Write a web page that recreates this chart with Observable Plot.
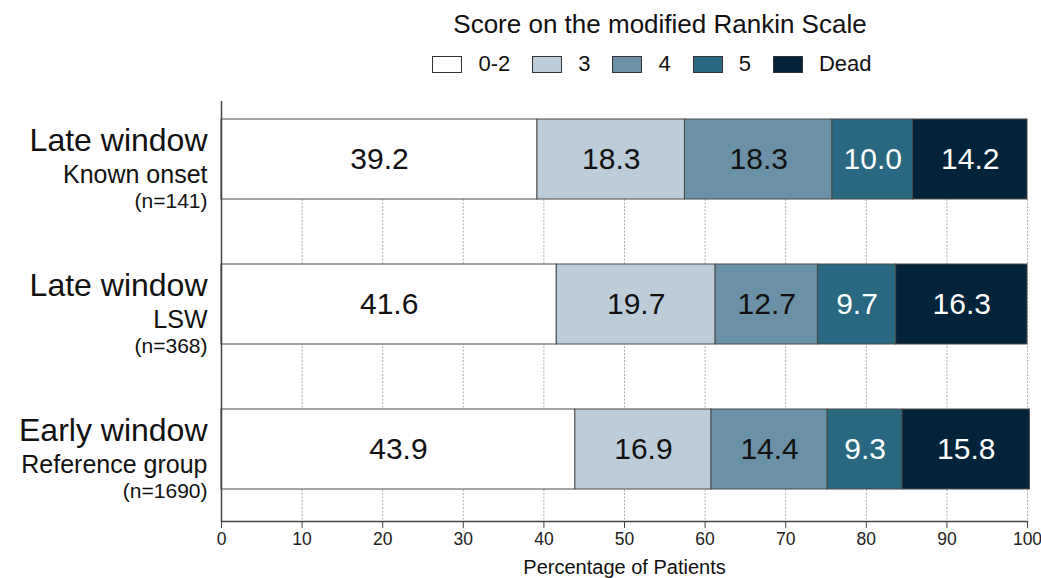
<!DOCTYPE html>
<html><head><meta charset="utf-8">
<script src="https://cdn.jsdelivr.net/npm/d3@7"></script>
<script src="https://cdn.jsdelivr.net/npm/@observablehq/plot@0.6"></script>
<style>
body{margin:0;background:#fff;font-family:"Liberation Sans",Arial,sans-serif;color:#111;}
#header{position:relative;width:1041px;height:92px;}
#title{position:absolute;left:0;top:9px;width:1041px;box-sizing:border-box;padding-left:279px;text-align:center;font-size:26px;line-height:30px;}
#legend{position:absolute;left:0;top:52px;width:1041px;box-sizing:border-box;padding-left:263px;display:flex;justify-content:center;align-items:center;font-size:22px;line-height:24px;}
.item{display:flex;align-items:center;margin:0 11px;}
.sw{width:28px;height:15px;border:1.5px solid #333;margin-right:16px;}
</style>
</head><body>
<div id="header"><div id="title"></div><div id="legend"></div></div>
<div id="chart"></div>
<script>
const legendTitle = "Score on the modified Rankin Scale";
const scores = ["0-2", "3", "4", "5", "Dead"];
const colors = ["#ffffff", "#bccdd9", "#6a91a8", "#2a6882", "#03233a"];
const whiteTextScores = ["5", "Dead"];
const groups = ["Known onset", "LSW", "Reference group"];
const line1 = ["Late window", "Late window", "Early window"];
const nLabels = ["(n=141)", "(n=368)", "(n=1690)"];
const knownOnset = [39.2, 18.3, 18.3, 10.0, 14.2];
const lsw = [41.6, 19.7, 12.7, 9.7, 16.3];
const reference = [43.9, 16.9, 14.4, 9.3, 15.8];
const xTicks = [0, 10, 20, 30, 40, 50, 60, 70, 80, 90, 100];
const xLabel = "Percentage of Patients";

const series = [knownOnset, lsw, reference];
const data = [];
groups.forEach((g, gi) => scores.forEach((s, si) => data.push({group: g, score: s, value: series[gi][si]})));

document.getElementById("title").textContent = legendTitle;
const leg = document.getElementById("legend");
scores.forEach((s, i) => {
  const it = document.createElement("div"); it.className = "item";
  const sw = document.createElement("div"); sw.className = "sw"; sw.style.background = colors[i];
  const lb = document.createElement("span"); lb.textContent = s;
  it.appendChild(sw); it.appendChild(lb); leg.appendChild(it);
});

const font = '"Liberation Sans", Arial, sans-serif';
const chart = Plot.plot({
  width: 1041, height: 486,
  marginLeft: 221, marginRight: 14, marginTop: 9, marginBottom: 57,
  style: {fontFamily: font, color: "#222", background: "#fff", overflow: "visible"},
  x: {domain: [0, 100]},
  y: {domain: groups, range: [26, 399], paddingInner: 0.445, paddingOuter: 0, axis: null},
  color: {domain: scores, range: colors},
  marks: [
    Plot.ruleX(xTicks.slice(1), {stroke: "#9a9a9a", strokeWidth: 0.8, strokeDasharray: "2,1.5", insetTop: 98}),
    Plot.barX(data, {x: "value", y: "group", fill: "score", stroke: "#4a4a4a", strokeWidth: 1}),
    Plot.text(data, Plot.stackX({x: "value", y: "group", text: d => whiteTextScores.includes(d.score) ? null : d.value.toFixed(1), fill: "#111", fontSize: 30})),
    Plot.text(data, Plot.stackX({x: "value", y: "group", text: d => whiteTextScores.includes(d.score) ? d.value.toFixed(1) : null, fill: "#fff", fontSize: 30})),
    Plot.ruleX([0], {stroke: "#444", strokeWidth: 1.5}),
    Plot.frame({anchor: "bottom", stroke: "#444", strokeWidth: 1.5}),
    Plot.axisX({ticks: xTicks, tickSize: 7, tickPadding: 4, fontSize: 17.5, label: null, stroke: "#444", fill: "#222"}),
    Plot.text([xLabel], {frameAnchor: "bottom", dy: 52, fontSize: 20, fill: "#111"}),
    Plot.text(groups, {y: d => d, text: (d, i) => line1[i], frameAnchor: "left", textAnchor: "end", dx: -14, dy: -19, fontSize: 32, fill: "#111"}),
    Plot.text(groups, {y: d => d, text: d => d, frameAnchor: "left", textAnchor: "end", dx: -14, dy: 15, fontSize: 25, fill: "#111"}),
    Plot.text(groups, {y: d => d, text: (d, i) => nLabels[i], frameAnchor: "left", textAnchor: "end", dx: -14, dy: 42, fontSize: 21, fill: "#111"})
  ]
});
document.getElementById("chart").appendChild(chart);
</script>
</body></html>
